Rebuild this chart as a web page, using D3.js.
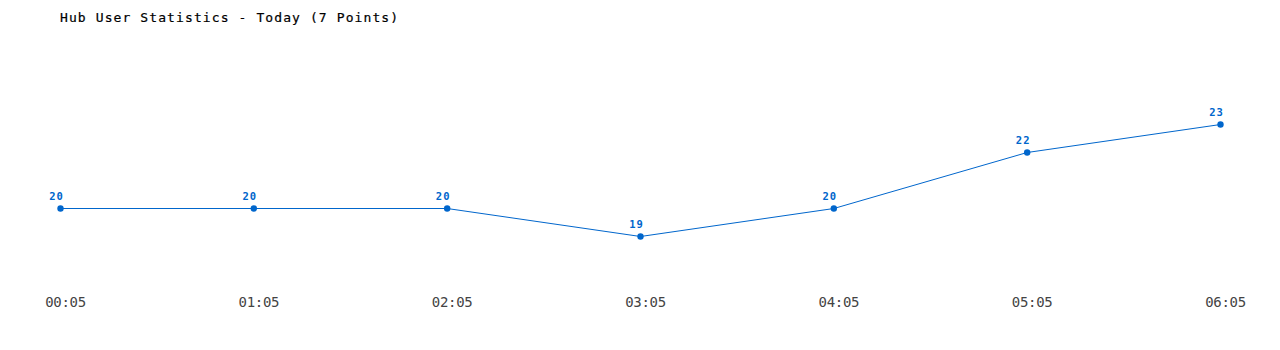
<!DOCTYPE html>
<html><head><meta charset="utf-8">
<script src="https://cdn.jsdelivr.net/npm/d3@7"></script>
<style>
html,body{margin:0;padding:0;background:#fff;}
svg{display:block;}
</style></head>
<body>
<script>
const title = "Hub User Statistics - Today (7 Points)";
const times = ["00:05","01:05","02:05","03:05","04:05","05:05","06:05"];
const users = [20,20,20,19,20,22,23];

const W = 1280, H = 350;
const color = "#0066cc";
const svg = d3.select("body").append("svg").attr("width", W).attr("height", H);

const x = d3.scalePoint().domain(times).range([60.5, 1220.5]);
const y = d3.scaleLinear().domain([19, 23]).range([236.5, 124.5]);

svg.append("text")
  .attr("x", 60).attr("y", 22)
  .attr("font-family", "DejaVu Sans Mono")
  .attr("font-size", 13)
  .attr("letter-spacing", 1.1)
  .attr("fill", "#000")
  .attr("stroke", "#000").attr("stroke-width", 0.2)
  .text(title);

const data = times.map((t, i) => ({t, v: users[i]}));

svg.append("path").datum(data)
  .attr("fill", "none").attr("stroke", color).attr("stroke-width", 1)
  .attr("d", d3.line().x(d => x(d.t)).y(d => y(d.v)));

svg.selectAll("circle.pt").data(data).join("circle")
  .attr("class", "pt")
  .attr("cx", d => x(d.t)).attr("cy", d => y(d.v)).attr("r", 3.2)
  .attr("fill", color);

svg.selectAll("text.val").data(data).join("text")
  .attr("class", "val")
  .attr("x", d => x(d.t) - 4).attr("y", d => y(d.v) - 9)
  .attr("text-anchor", "middle")
  .attr("font-family", "DejaVu Sans Mono")
  .attr("font-weight", "bold")
  .attr("font-size", 10.5)
  .attr("letter-spacing", 1)
  .attr("fill", color)
  .text(d => d.v);

const xAxis = d3.axisBottom(x).tickSize(0).tickPadding(0);
const gx = svg.append("g").attr("transform", "translate(4.5,297)").call(xAxis);
gx.select(".domain").remove();
gx.selectAll("text")
  .attr("font-family", "DejaVu Sans Mono")
  .attr("font-size", 14)
  .attr("letter-spacing", -0.3)
  .attr("fill", "#444")
  .attr("dy", "0.71em");
</script>
</body></html>
